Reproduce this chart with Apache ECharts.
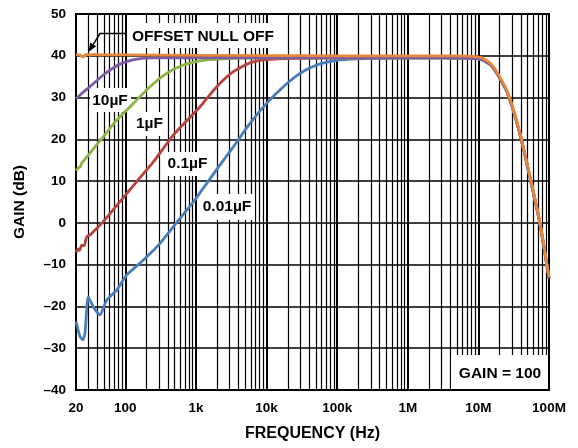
<!DOCTYPE html>
<html>
<head>
<meta charset="utf-8">
<script src="https://cdn.jsdelivr.net/npm/echarts@6/dist/echarts.min.js"></script>
<style>
  html, body { margin: 0; padding: 0; background: #fff; }
  #chart { width: 578px; height: 448px; }
</style>
</head>
<body>
<div id="chart"></div>
<script>
// high frequency roll-off shared by every curve (orange sits on top)
const rolloffFreq = [2e6, 5e6, 9.5e6, 12.5e6, 16.3e6, 25.2e6, 38.9e6, 59.4e6, 74.7e6, 1e8]
const rolloffGain = [39.5, 39.45, 39.3, 38.7, 37.1, 31.5, 21.2, 7.6, -0.3, -13.2]
const rolloffGainOff = [40.0, 40.0, 39.8, 39.1, 37.4, 31.8, 21.5, 7.9, 0.0, -12.9]

const freq10uF = [20, 25, 31.5, 48.7, 84, 145, 250, 1000, 10000, 100000]
const gain10uF = [29.7, 31.2, 32.6, 35.4, 38.0, 39.2, 39.5, 39.5, 39.5, 39.5]

const freq1uF = [20, 22, 23, 24.1, 31.5, 48.7, 75.4, 130, 223, 385, 663, 1140, 1970, 4000, 10000, 100000]
const gain1uF = [12.5, 13.3, 13.4, 14.3, 16.7, 20.6, 24.6, 28.6, 32.6, 35.8, 37.8, 38.8, 39.2, 39.45, 39.5, 39.5]

const freq01uF = [20, 21.5, 22.5, 24.1, 26, 28.4, 32, 37.2, 48.7, 84, 145, 249, 478, 1140, 1970, 3380, 5820, 10000, 26700, 100000]
const gain01uF = [-7.0, -6.3, -6.6, -5.3, -5.5, -3.3, -2.8, -1.7, 0.3, 5.1, 9.9, 14.6, 21.0, 27.8, 32.6, 36.2, 38.3, 39.1, 39.4, 39.5]

const freq001uF = [20, 22.8, 24.9, 26.8, 29.8, 35.2, 43.7, 54.4, 75.4, 104, 180, 310, 533, 917, 1140, 1970, 3380, 5820, 10000, 17300, 29800, 51300, 88200, 152000, 300000, 1000000]
const gain001uF = [-23.6, -27.2, -28.0, -26.4, -17.7, -20.1, -22.0, -18.5, -16.1, -12.5, -8.9, -4.9, 0.1, 5.0, 7.2, 12.8, 18.2, 23.8, 28.6, 32.6, 35.8, 37.8, 38.8, 39.2, 39.4, 39.5]

const freqOff = [20, 22, 23.5, 25, 26.5, 28, 32, 36, 45, 60, 100, 1000, 10000, 100000, 1000000]
const gainOff = [40.3, 40.2, 40.0, 39.7, 40.0, 40.3, 40.2, 40.3, 40.2, 40.2, 40.2, 40.1, 40.05, 40.0, 40.0]

const yTicks = [-40, -30, -20, -10, 0, 10, 20, 30, 40, 50]
const xTickLabels = { 20: '20', 100: '100', 1000: '1k', 10000: '10k', 100000: '100k', 1000000: '1M', 10000000: '10M', 100000000: '100M' }

// minor grid: 2..9 per decade (starting at 30 in the first one)
const minorFreq = []
for (let d = 10; d < 1e8; d *= 10) {
  for (let m = 2; m <= 9; m++) {
    const f = m * d
    if (f > 20 && f < 1e8) minorFreq.push(f)
  }
}

function pairs(xs, ys) {
  return xs.map((x, i) => [x, ys[i]])
}

const labelFont = 'bold 15.5px "Liberation Sans", Arial, sans-serif'

function box(x, y, w, h) {
  return { type: 'rect', z: 50, silent: true, shape: { x: x, y: y, width: w, height: h }, style: { fill: '#fff' } }
}
function label(text, x, y) {
  return { type: 'text', z: 200, silent: true, x: x, y: y, style: { text: text, font: labelFont, fill: '#000', textAlign: 'center', textVerticalAlign: 'middle' } }
}

function curve(name, color, data) {
  return {
    name: name,
    type: 'line',
    data: data,
    smooth: 0.2,
    showSymbol: false,
    z: 100,
    lineStyle: { color: color, width: 2.8 }
  }
}

const chart = echarts.init(document.getElementById('chart'))

const option = {
  animation: false,
  backgroundColor: '#fff',
  grid: {
    left: 76,
    right: 29,
    top: 14,
    bottom: 58,
    show: true,
    borderColor: '#000',
    borderWidth: 2,
    backgroundColor: 'transparent'
  },
  xAxis: {
    type: 'log',
    logBase: 10,
    min: 20,
    max: 1e8,
    name: 'FREQUENCY (Hz)',
    nameLocation: 'middle',
    nameGap: 36,
    nameTextStyle: { color: '#000', fontWeight: 'bold', fontSize: 16, fontFamily: 'Liberation Sans' },
    axisLine: { show: false },
    axisTick: { show: false },
    axisLabel: {
      color: '#000',
      fontWeight: 'bold',
      fontSize: 13.5,
      fontFamily: 'Liberation Sans',
      margin: 11,
      showMinLabel: true,
      showMaxLabel: true,
      formatter: function (v) {
        const k = Math.round(v)
        return xTickLabels[k] !== undefined ? xTickLabels[k] : ''
      }
    },
    splitLine: { show: true, lineStyle: { color: '#000', width: 2 } }
  },
  yAxis: {
    type: 'value',
    min: yTicks[0],
    max: yTicks[yTicks.length - 1],
    interval: 10,
    name: 'GAIN (dB)',
    nameLocation: 'middle',
    nameGap: 48,
    nameTextStyle: { color: '#000', fontWeight: 'bold', fontSize: 15.5, fontFamily: 'Liberation Sans' },
    axisLine: { show: false },
    axisTick: { show: false },
    axisLabel: {
      color: '#000',
      fontWeight: 'bold',
      fontSize: 13.5,
      fontFamily: 'Liberation Sans',
      margin: 10,
      formatter: function (v) {
        return String(v).replace('-', '\u2013')
      }
    },
    splitLine: { show: true, lineStyle: { color: '#000', width: 1.5 } }
  },
  series: [
    {
      name: 'grid',
      type: 'line',
      data: [],
      z: 1,
      markLine: {
        silent: true,
        symbol: 'none',
        label: { show: false },
        lineStyle: { color: '#000', width: 1.2, type: 'solid' },
        data: minorFreq.map(f => ({ xAxis: f }))
      }
    },
    curve('0.01µF', '#4a7ebb', pairs(freq001uF.concat(rolloffFreq), gain001uF.concat(rolloffGain))),
    curve('0.1µF', '#b8433d', pairs(freq01uF.concat(rolloffFreq), gain01uF.concat(rolloffGain))),
    curve('1µF', '#8db541', pairs(freq1uF.concat(rolloffFreq), gain1uF.concat(rolloffGain))),
    curve('10µF', '#7d5ba6', pairs(freq10uF.concat(rolloffFreq), gain10uF.concat(rolloffGain))),
    curve('OFFSET NULL OFF', '#e8873a', pairs(freqOff.concat(rolloffFreq), gainOff.concat(rolloffGainOff)))
  ],
  graphic: [
    // white patches behind the annotations
    box(127, 23, 154, 25),
    box(90, 88, 41, 24),
    box(133, 112, 33, 24),
    box(163, 152, 49, 24),
    box(199, 194, 56, 26),
    box(451, 355, 97, 34),
    label('OFFSET NULL OFF', 203, 37),
    label('10µF', 110, 100.5),
    label('1µF', 149.5, 124),
    label('0.1µF', 187.5, 164),
    label('0.01µF', 227, 206.5),
    label('GAIN = 100', 500, 374),
    // arrow to the offset null off trace
    {
      type: 'polyline',
      z: 200,
      silent: true,
      shape: { points: [[126, 33.5], [100, 33.5], [93.3, 44.4]] },
      style: { stroke: '#000', lineWidth: 1.5, fill: null }
    },
    {
      type: 'polygon',
      z: 200,
      silent: true,
      shape: { points: [[88.5, 52], [90.3, 42.5], [96.2, 46.2]] },
      style: { fill: '#000' }
    }
  ]
}

chart.setOption(option)
</script>
</body>
</html>
